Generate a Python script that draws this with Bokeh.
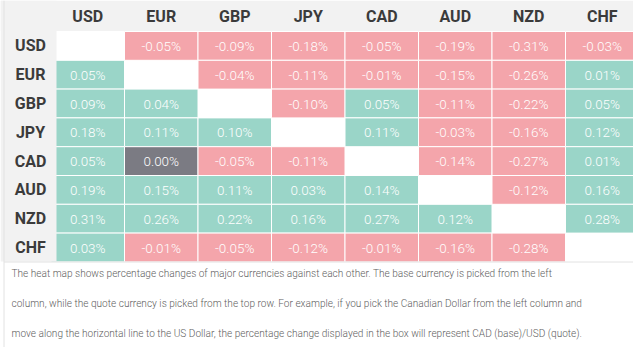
from bokeh.plotting import figure
from bokeh.models import Range1d, ColumnDataSource
from bokeh.core.properties import value
from bokeh.embed import file_html
from bokeh.resources import INLINE

# ---------------- data ----------------
currencies = ["USD", "EUR", "GBP", "JPY", "CAD", "AUD", "NZD", "CHF"]
usd_row = [None, -0.05, -0.09, -0.18, -0.05, -0.19, -0.31, -0.03]
eur_row = [0.05, None, -0.04, -0.11, -0.01, -0.15, -0.26, 0.01]
gbp_row = [0.09, 0.04, None, -0.10, 0.05, -0.11, -0.22, 0.05]
jpy_row = [0.18, 0.11, 0.10, None, 0.11, -0.03, -0.16, 0.12]
cad_row = [0.05, 0.00, -0.05, -0.11, None, -0.14, -0.27, 0.01]
aud_row = [0.19, 0.15, 0.11, 0.03, 0.14, None, -0.12, 0.16]
nzd_row = [0.31, 0.26, 0.22, 0.16, 0.27, 0.12, None, 0.28]
chf_row = [0.03, -0.01, -0.05, -0.12, -0.01, -0.16, -0.28, None]
rows = [usd_row, eur_row, gbp_row, jpy_row, cad_row, aud_row, nzd_row, chf_row]

notes = [
    "The heat map shows percentage changes of major currencies against each other. The base currency is picked from the left",
    "column, while the quote currency is picked from the top row. For example, if you pick the Canadian Dollar from the left column and",
    "move along the horizontal line to the US Dollar, the percentage change displayed in the box will represent CAD (base)/USD (quote).",
]

# ---------------- layout ----------------
W, H = 633, 347
COL_PITCH, COL0 = 73.5, 87.25
ROW_PITCH, ROW0 = 28.8, 45.4


def fx(px):
    return (px - COL0) / COL_PITCH


def fy(py):
    return (py - ROW0) / ROW_PITCH


NEG_COLOR = "#f4a5ab"
UP = "#9ad5c8"
ZERO = "#7b7b83"
GRAY = "#f2f2f2"

p = figure(width=W, height=H, output_backend="svg", toolbar_location=None,
           x_range=Range1d(fx(0), fx(W)), y_range=Range1d(fy(H), fy(0)),
           min_border=0, outline_line_color=None, background_fill_color="white",
           border_fill_color="white")
p.axis.visible = False
p.grid.visible = False

# header background
p.quad(left=[fx(0)], right=[fx(W)], top=[fy(0)], bottom=[fy(30.5)],
       fill_color=GRAY, line_color=None)

# cells
xs, ys, cols, labels = [], [], [], []
for r, row in enumerate(rows):
    for c, v in enumerate(row):
        if v is None:
            continue
        xs.append(c)
        ys.append(r)
        if v > 0:
            cols.append(UP)
        elif v < 0:
            cols.append(NEG_COLOR)
        else:
            cols.append(ZERO)
        labels.append(f"{v:.2f}%")

src = ColumnDataSource(dict(x=xs, y=ys, color=cols, label=labels,
                            l=[x - 0.5 for x in xs], r=[x + 0.5 for x in xs],
                            t=[y - 0.5 for y in ys], b=[y + 0.5 for y in ys]))
p.quad(left="l", right="r", top="t", bottom="b", source=src,
       fill_color="color", line_color="white", line_width=1)

# left label column background (drawn over the first cells' overflow)
p.quad(left=[fx(0)], right=[fx(56)], top=[fy(0)], bottom=[fy(261)],
       fill_color=GRAY, line_color=None)

p.text(x="x", y="y", text="label", source=src, text_color="white",
       text_font=value("Roboto Light"), text_font_size="13.5px",
       text_align="center", text_baseline="middle")

# column headers
p.text(x=list(range(len(currencies))), y=[fy(15.5)] * len(currencies), text=currencies,
       text_color="#3b3b3b", text_font=value("Roboto"), text_font_style="bold",
       text_font_size="16px", text_align="center", text_baseline="middle")

# row labels
p.text(x=[fx(30)] * len(currencies), y=list(range(len(currencies))), text=currencies,
       text_color="#3b3b3b", text_font=value("Roboto"), text_font_style="bold",
       text_font_size="16px", text_align="center", text_baseline="middle")

# borders
p.segment(x0=[fx(3.5), fx(3.5)], y0=[fy(0), fy(261.5)],
          x1=[fx(3.5), fx(W)], y1=[fy(H), fy(261.5)],
          line_color="#e2e2e2", line_width=1)

# notes
p.text(x=[fx(11)] * len(notes), y=[fy(273), fy(303), fy(333)], text=notes,
       text_color="#5f5f5f", text_font=value("Roboto Light"), text_font_size="10.1px",
       text_align="left", text_baseline="middle")

open("out.html", "w").write(file_html(p, INLINE))
